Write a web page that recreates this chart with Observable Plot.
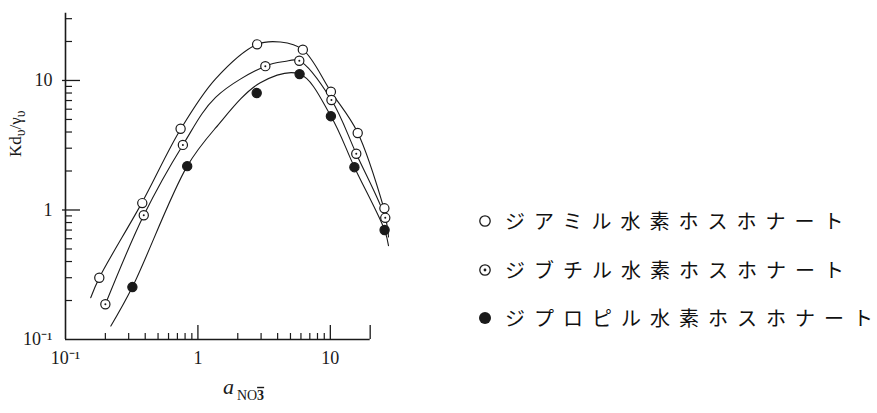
<!DOCTYPE html>
<html><head><meta charset="utf-8">
<script src="https://cdn.jsdelivr.net/npm/d3@7"></script>
<script src="https://cdn.jsdelivr.net/npm/@observablehq/plot@0.6"></script>
<style>
body{margin:0;background:#fff;}
#wrap{position:relative;width:877px;height:413px;overflow:hidden;}
#chart{position:absolute;left:0;top:0;}
.row{position:absolute;left:478px;height:24px;display:flex;align-items:center;}
.row svg{display:block;margin-right:13px;}
.row span{font-family:"Noto Sans CJK JP";font-size:20px;letter-spacing:9px;color:#111;line-height:24px;white-space:nowrap;}
.row span span.last{letter-spacing:0;}
</style>
</head><body><div id="wrap"><div id="chart"></div><div id="legend"></div></div>
<script>
// Series names (legend)
const seriesNames = ["ジアミル水素ホスホナート", "ジブチル水素ホスホナート", "ジプロピル水素ホスホナート"];
const seriesSymbols = ["open", "dotted", "filled"];

// Measured points
const amylX = [0.18, 0.38, 0.74, 2.8, 6.2, 10.1, 16.1, 25.6];
const amylY = [0.30, 1.13, 4.24, 19.0, 17.3, 8.2, 3.93, 1.03];
const butylX = [0.20, 0.39, 0.77, 3.23, 5.83, 10.2, 15.7, 26];
const butylY = [0.187, 0.91, 3.18, 12.9, 14.2, 7.07, 2.72, 0.87];
const propylX = [0.32, 0.83, 2.78, 5.86, 10.1, 15.2, 25.7];
const propylY = [0.254, 2.18, 8.0, 11.2, 5.3, 2.14, 0.70];

// Hand-drawn smooth curves
const amylCurveX = [0.155, 0.18, 0.38, 0.74, 1.36, 2.8, 4.2, 6.2, 10.1, 16, 25.6];
const amylCurveY = [0.21, 0.30, 1.15, 4.2, 10.3, 19, 19.8, 17.3, 8.2, 4.0, 1.0];
const butylCurveX = [0.20, 0.39, 0.77, 1.36, 3.23, 4.5, 5.83, 10.2, 15.7, 26, 27.5];
const butylCurveY = [0.187, 0.91, 3.18, 7.4, 12.9, 14.0, 14.2, 7.07, 2.72, 0.87, 0.62];
const propylCurveX = [0.22, 0.32, 0.83, 1.36, 2.96, 5.86, 10.1, 15.2, 25.7, 27.5];
const propylCurveY = [0.127, 0.254, 2.18, 4.3, 9.6, 11.2, 5.3, 2.14, 0.70, 0.53];

// Axes
const xDomain = [0.1, 30];
const yDomain = [0.1, 40];
const xAxisExtent = [0.1, 20];
const yAxisExtent = [0.1, 33];
const xLabelTicks = [0.1, 1, 10];
const yLabelTicks = [0.1, 1, 10];
const xMajorTicks = [1, 10, 20];
const xMinorTicks = [0.2, 0.3, 0.4, 0.5, 0.6, 0.7, 0.8, 0.9, 2, 3, 4, 5, 6, 7, 8, 9];
const yMajorTicks = [1, 10];
const yMinorTicks = [0.2, 0.3, 0.4, 0.5, 0.6, 0.7, 0.8, 0.9, 2, 3, 4, 5, 6, 7, 8, 9, 20, 30];
// titles: [text, role] role: 0 normal, 1 subscript
const yTitleParts = [["Kd", 0], ["υ", 1], ["/γ", 0], ["υ", 1]];
const xTitleParts = [["a", 0], ["NO", 1], ["3", 2]];
const yTitle = yTitleParts.map(d => d[0]).join("");
const xTitle = xTitleParts.map(d => d[0]).join("");

const toPts = (xs, ys, s) => xs.map((x, i) => ({x, y: ys[i], s}));
const points = [
  ...toPts(amylX, amylY, 0),
  ...toPts(butylX, butylY, 1),
  ...toPts(propylX, propylY, 2)
];
const curves = [
  ...toPts(amylCurveX, amylCurveY, 0),
  ...toPts(butylCurveX, butylCurveY, 1),
  ...toPts(propylCurveX, propylCurveY, 2)
];
const fmt = d => d === 0.1 ? "10⁻¹" : String(d);

const W = 420, H = 413, mL = 65, mR = 27, mT = 2, mB = 74;
const plotW = W - mL - mR, plotH = H - mT - mB;
const serif = "Liberation Serif";
const ink = "#1a1a1a";

const chart = Plot.plot({
  width: W, height: H,
  marginLeft: mL, marginRight: mR, marginTop: mT, marginBottom: mB,
  style: {fontFamily: serif, fontSize: "18px", color: ink, background: "white"},
  x: {type: "log", domain: xDomain, axis: null},
  y: {type: "log", domain: yDomain, axis: null},
  marks: [
    // axis lines
    Plot.ruleY([yAxisExtent[0]], {x1: xAxisExtent[0], x2: xAxisExtent[1], stroke: ink, strokeWidth: 1.6}),
    Plot.ruleX([xAxisExtent[0]], {y1: yAxisExtent[0], y2: yAxisExtent[1], stroke: ink, strokeWidth: 1.6}),
    // inward ticks
    Plot.tickX(xMajorTicks, {x: d => d, insetTop: plotH - 14, stroke: ink, strokeWidth: 1.3}),
    Plot.tickX(xMinorTicks, {x: d => d, insetTop: plotH - 6, stroke: ink, strokeWidth: 1.2}),
    Plot.tickY(yMajorTicks, {y: d => d, insetRight: plotW - 15, insetLeft: -3, stroke: ink, strokeWidth: 1.3}),
    Plot.tickY(yMinorTicks, {y: d => d, insetRight: plotW - 7, stroke: ink, strokeWidth: 1.2}),
    // tick labels
    Plot.axisX({ticks: xLabelTicks, tickFormat: fmt, tickSize: 0, tickPadding: 12, fontSize: 18, fontFamily: serif, label: null}),
    Plot.axisY({ticks: yLabelTicks, tickFormat: fmt, tickSize: 0, tickPadding: 13, fontSize: 18, fontFamily: serif, label: null}),
    // titles
    Plot.text([yTitle], {frameAnchor: "left", rotate: -90, dx: -50, dy: -14, fontSize: 17, fontFamily: serif, fill: ink}),
    Plot.text([xTitle], {frameAnchor: "bottom", dx: 14, dy: 54, fontSize: 22, fontFamily: serif, fill: ink}),
    // curves
    Plot.line(curves, {x: "x", y: "y", z: "s", curve: "catmull-rom", stroke: ink, strokeWidth: 1.1}),
    // markers
    Plot.dot(points, {x: "x", y: "y", r: 4.6, stroke: ink, strokeWidth: 1.2,
      fill: d => seriesSymbols[d.s] === "filled" ? ink : "white"}),
    Plot.dot(points.filter(d => seriesSymbols[d.s] === "dotted"), {x: "x", y: "y", r: 1, fill: ink, stroke: "none"})
  ]
});
document.getElementById("chart").appendChild(chart);

// Sub-scripted titles as tspans
const svgSel = d3.select(chart);
svgSel.selectAll("text").filter(function () { return this.textContent === yTitle; }).each(function () {
  const t = d3.select(this).text(null);
  let sub = false;
  yTitleParts.forEach(([s, r]) => {
    const sp = t.append("tspan").text(s);
    if (r === 1 && !sub) { sp.attr("dy", "0.3em").attr("font-size", "0.8em"); sub = true; }
    else if (r === 0 && sub) { sp.attr("dy", "-0.24em"); sub = false; }
    else if (r === 1) sp.attr("font-size", "0.8em");
  });
});
svgSel.selectAll("text").filter(function () { return this.textContent === xTitle; }).each(function () {
  const t = d3.select(this).text(null);
  xTitleParts.forEach(([s, r], i) => {
    const sp = t.append("tspan").text(s);
    if (r === 0) sp.attr("font-style", "italic");
    if (r === 1) sp.attr("font-size", "14px").attr("dy", "0.45em").attr("dx", "3");
    if (r === 2) sp.attr("font-size", "14px").attr("font-weight", "bold").attr("text-decoration", "overline");
  });
});

// Legend
const rowY = [221, 270, 318];
const legend = document.getElementById("legend");
seriesNames.forEach((name, i) => {
  const row = document.createElement("div");
  row.className = "row";
  row.style.top = (rowY[i] - 12) + "px";
  const sym = seriesSymbols[i];
  let svg = '<svg width="14" height="14" viewBox="0 0 14 14">';
  if (sym === "filled") svg += '<circle cx="7" cy="7" r="6" fill="' + ink + '"/>';
  else svg += '<circle cx="7" cy="7" r="5.2" fill="white" stroke="' + ink + '" stroke-width="1.3"/>';
  if (sym === "dotted") svg += '<circle cx="7" cy="7" r="1.4" fill="' + ink + '"/>';
  svg += '</svg>';
  row.innerHTML = svg + '<span>' + name.slice(0, -1) + '<span class="last">' + name.slice(-1) + '</span></span>';
  legend.appendChild(row);
});
</script>
</body></html>
